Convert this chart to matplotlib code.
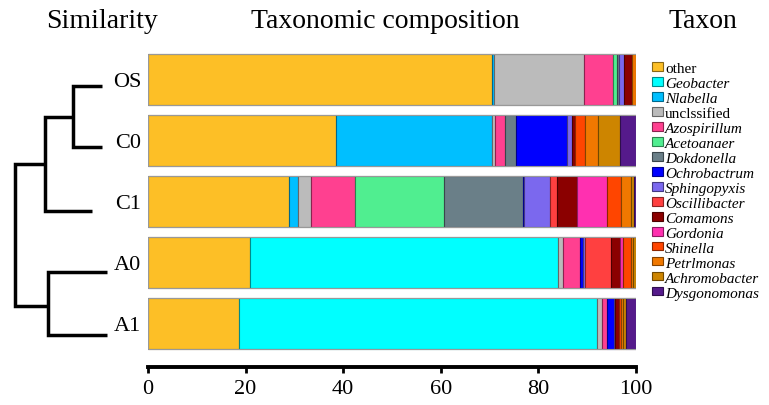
import matplotlib
matplotlib.use("Agg")
import matplotlib.pyplot as plt
from matplotlib.patches import Patch
import matplotlib.colors as mcolors
import numpy as np

samples = ["OS", "C0", "C1", "A0", "A1"]
taxa = ["other", "Geobacter", "Nlabella", "unclssified", "Azospirillum", "Acetoanaer",
        "Dokdonella", "Ochrobactrum", "Sphingopyxis", "Oscillibacter", "Comamons",
        "Gordonia", "Shinella", "Petrlmonas", "Achromobacter", "Dysgonomonas"]
colors = ["#FDBF26", "#00FFFF", "#00BFFF", "#BBBBBB", "#FF4090", "#50EE90",
          "#6A7F88", "#0000FF", "#7B68EE", "#FF4040", "#8B0000",
          "#FF30B0", "#FF4500", "#F07800", "#CD8500", "#551A8B"]

# percent abundance per sample (order of taxa)
OS = [70.5, 0.0, 0.3, 18.6, 5.9, 0.75, 0.55, 0.0, 0.95, 0.0, 1.6, 0.0, 0.0, 0.85, 0.0, 0.0]
C0 = [38.5, 0.0, 31.9, 0.7, 2.05, 0.0, 2.2, 10.6, 1.0, 0.0, 0.55, 0.0, 2.05, 2.7, 4.4, 3.35]
C1 = [28.9, 0.0, 1.9, 2.7, 9.0, 18.2, 16.2, 0.2, 5.3, 1.5, 4.1, 6.1, 2.9, 2.0, 0.5, 0.5]
A0 = [20.8, 63.3, 0.0, 1.0, 3.5, 0.0, 0.0, 0.5, 0.4, 5.3, 1.9, 0.7, 1.5, 0.55, 0.55, 0.0]
A1 = [18.7, 73.3, 0.0, 1.1, 1.0, 0.0, 0.0, 1.3, 0.3, 0.0, 0.9, 0.0, 0.3, 0.5, 0.5, 2.1]
data = [OS, C0, C1, A0, A1]

xticks = [0, 20, 40, 60, 80, 100]

# dendrogram node geometry (figure pixels)
dendro_segments = [
    [(102, 87), (73, 87), (73, 148), (102, 148)],      # OS-C0
    [(73, 118), (45, 118), (45, 212), (92, 212)],      # (OS,C0)-C1
    [(107, 273), (48, 273), (48, 336), (107, 336)],    # A0-A1
    [(45, 165), (15, 165), (15, 307), (48, 307)],      # root
]

serif = ["Liberation Serif", "DejaVu Serif"]
plt.rcParams['font.family'] = serif

W, H = 769, 406
fig = plt.figure(figsize=(W / 100, H / 100), dpi=100)

ax = fig.add_axes([148 / W, 1 - 368 / H, 488 / W, 318 / H])
for i, row in enumerate(data):
    left = 0.0
    for j, v in enumerate(row):
        if v <= 0:
            continue
        c = np.array(mcolors.to_rgb(colors[j]))
        ec = tuple(c * 0.55)
        ax.barh(i, v, left=left, height=0.836, color=colors[j], edgecolor=ec, linewidth=0.8)
        left += v
    ax.barh(i, left, height=0.836, facecolor="none", edgecolor="#999999", linewidth=0.8)

ax.set_xlim(0, 100)
ax.set_ylim(4.72, -0.492)
ax.set_yticks(range(len(samples)))
ax.set_yticklabels(samples, fontsize=16)
ax.tick_params(axis='y', length=0, pad=5)
ax.set_xticks(xticks)
ax.set_xticklabels([str(t) for t in xticks], fontsize=16)
ax.tick_params(axis='x', length=4, width=2, pad=5, direction='out')
for s in ["top", "right", "left"]:
    ax.spines[s].set_visible(False)
ax.spines["bottom"].set_linewidth(2.8)

over = fig.add_axes([0, 0, 1, 1], facecolor="none")
over.set_xlim(0, W)
over.set_ylim(H, 0)
over.axis("off")
for seg in dendro_segments:
    xs = [p[0] for p in seg]
    ys = [p[1] for p in seg]
    over.plot(xs, ys, color="black", linewidth=2.5, solid_capstyle="butt", solid_joinstyle="miter")

fig.text(102 / W, 1 - 22 / H, "Similarity", fontsize=20, ha="center", va="center")
fig.text(385 / W, 1 - 22 / H, "Taxonomic composition", fontsize=20, ha="center", va="center")
fig.text(703 / W, 1 - 22 / H, "Taxon", fontsize=20, ha="center", va="center")

handles = [Patch(facecolor=c, edgecolor=tuple(np.array(mcolors.to_rgb(c)) * 0.55), linewidth=0.8) for c in colors]
leg = fig.legend(handles, taxa, loc="upper left", bbox_to_anchor=(652 / W, 1 - 63 / H),
                 frameon=False, fontsize=11, labelspacing=0.13, handlelength=0.7,
                 handleheight=0.45, handletextpad=0.15, borderaxespad=0, borderpad=0)
for t, name in zip(leg.get_texts(), taxa):
    if name not in ("other", "unclssified"):
        t.set_fontstyle("italic")

fig.savefig("out.png", dpi=100)
